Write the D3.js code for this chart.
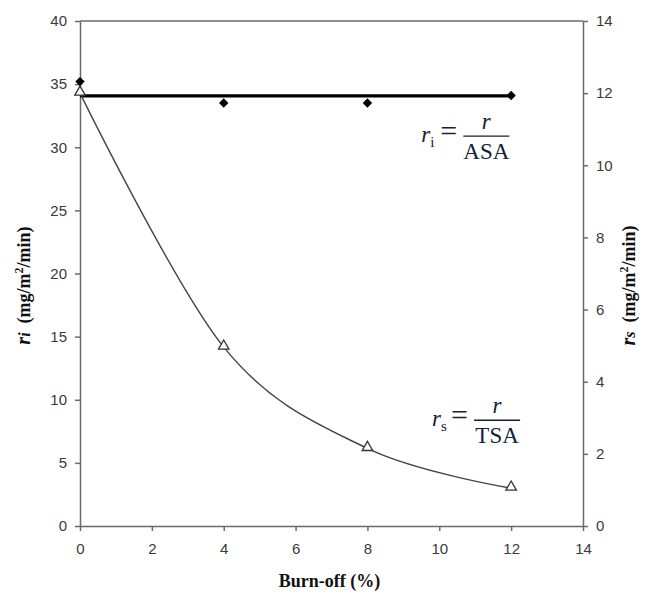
<!DOCTYPE html>
<html>
<head>
<meta charset="utf-8">
<script src="https://cdn.jsdelivr.net/npm/d3@7"></script>
<style>
  html, body { margin: 0; padding: 0; background: #fff; }
  svg { display: block; }
  .tick text { font-family: "Liberation Sans", Arial, sans-serif; font-size: 15px; fill: #3a3a3a; }
  .tick line, .domain { stroke: #6a6a6a; stroke-width: 1.5; }
  .title { font-family: "Liberation Serif", "Times New Roman", serif; font-weight: bold; font-size: 18px; fill: #111; }
  .eq { font-family: "Liberation Serif", "Times New Roman", serif; font-size: 23px; fill: #14213a; }
</style>
</head>
<body>
<svg id="chart" width="649" height="595"></svg>
<script>
// ---- data ----
const burnoff = [0, 4, 8, 12];
const riValues = [35.2, 33.5, 33.5, 34.1];   // left axis, diamonds
const rsValues = [12.0, 4.96, 2.15, 1.05];   // right axis, triangles
const xTicks = [0, 2, 4, 6, 8, 10, 12, 14];
const leftTicks = [0, 5, 10, 15, 20, 25, 30, 35, 40];
const rightTicks = [0, 2, 4, 6, 8, 10, 12, 14];

const svg = d3.select("#chart");
const plot = { left: 80, right: 583, top: 21, bottom: 526 };

const x = d3.scaleLinear().domain([0, 14]).range([plot.left, plot.right]);
const yL = d3.scaleLinear().domain([0, 40]).range([plot.bottom, plot.top]);
const yR = d3.scaleLinear().domain([0, 14]).range([plot.bottom, plot.top]);

// frame top line
svg.append("line")
  .attr("x1", x(0)).attr("x2", x(14))
  .attr("y1", yL(40)).attr("y2", yL(40))
  .attr("stroke", "#6a6a6a").attr("stroke-width", 1.5);

// axes
svg.append("g").attr("transform", `translate(0,${plot.bottom})`)
  .call(d3.axisBottom(x).tickValues(xTicks).tickSize(5).tickSizeOuter(0).tickPadding(9))
  .call(g => g.selectAll("text").attr("dy", "0.9em"));
svg.append("g").attr("transform", `translate(${plot.left},0)`)
  .call(d3.axisLeft(yL).tickValues(leftTicks).tickSize(5).tickSizeOuter(0).tickPadding(8));
svg.append("g").attr("transform", `translate(${plot.right},0)`)
  .call(d3.axisRight(yR).tickValues(rightTicks).tickSize(5).tickSizeOuter(0).tickPadding(8));

// mean line of ri
const riMean = d3.mean(riValues);
svg.append("line")
  .attr("x1", x(burnoff[0])).attr("x2", x(burnoff[burnoff.length - 1]))
  .attr("y1", yL(riMean)).attr("y2", yL(riMean))
  .attr("stroke", "#000").attr("stroke-width", 3.2);

// rs smooth curve
const line = d3.line().x((d, i) => x(burnoff[i])).y(d => yR(d)).curve(d3.curveCardinal);
svg.append("path").datum(rsValues)
  .attr("d", line)
  .attr("fill", "none").attr("stroke", "#444").attr("stroke-width", 1.4);

// diamonds (rotated squares)
const diamond = d3.symbol().type(d3.symbolSquare).size(44);
svg.selectAll(".dia").data(riValues).join("path")
  .attr("transform", (d, i) => `translate(${x(burnoff[i])},${yL(d)}) rotate(45)`)
  .attr("d", diamond).attr("fill", "#000");

// triangles
const tri = d3.symbol().type(d3.symbolTriangle).size(48);
svg.selectAll(".tri").data(rsValues).join("path")
  .attr("transform", (d, i) => `translate(${x(burnoff[i])},${yR(d) - 1})`)
  .attr("d", tri).attr("fill", "#fff").attr("stroke", "#333").attr("stroke-width", 1.3);

// axis titles
svg.append("text").attr("class", "title")
  .attr("x", (plot.left + plot.right) / 2 - 2).attr("y", 587)
  .attr("text-anchor", "middle").text("Burn-off (%)");

function yTitle(xPos, sub) {
  const t = svg.append("text").attr("class", "title")
    .attr("transform", `translate(${xPos},${(plot.top + plot.bottom) / 2 + 12}) rotate(-90)`)
    .attr("text-anchor", "middle");
  t.append("tspan").attr("font-style", "italic").attr("font-size", "20px").text("r");
  t.append("tspan").attr("font-style", "italic").attr("font-size", "16px").text(sub);
  t.append("tspan").text("\u00a0\u00a0(mg/m");
  t.append("tspan").attr("font-size", "12px").attr("dy", "-7").text("2");
  t.append("tspan").attr("dy", "7").text("/min)");
}
yTitle(30, "i");
yTitle(635, "s");

// equations
function equation(xr, yv, sub, denom) {
  const gx = x(xr), gy = yL(yv);
  const g = svg.append("g").attr("class", "eq");
  const t = g.append("text").attr("x", gx).attr("y", gy);
  t.append("tspan").attr("font-style", "italic").text("r");
  t.append("tspan").attr("font-size", "15px").attr("dy", "5").text(sub);
  g.append("text").attr("x", gx + 19).attr("y", gy - 1).attr("font-size", "30px").text("=");
  g.append("line").attr("x1", gx + 42).attr("x2", gx + 88)
    .attr("y1", gy - 6).attr("y2", gy - 6).attr("stroke", "#14213a").attr("stroke-width", 1.3);
  g.append("text").attr("x", gx + 65).attr("y", gy - 13).attr("text-anchor", "middle")
    .attr("font-style", "italic").text("r");
  g.append("text").attr("x", gx + 65).attr("y", gy + 17).attr("text-anchor", "middle").text(denom);
}
equation(9.5, 30.4, "i", "ASA");
equation(9.8, 7.9, "s", "TSA");
</script>
</body>
</html>
